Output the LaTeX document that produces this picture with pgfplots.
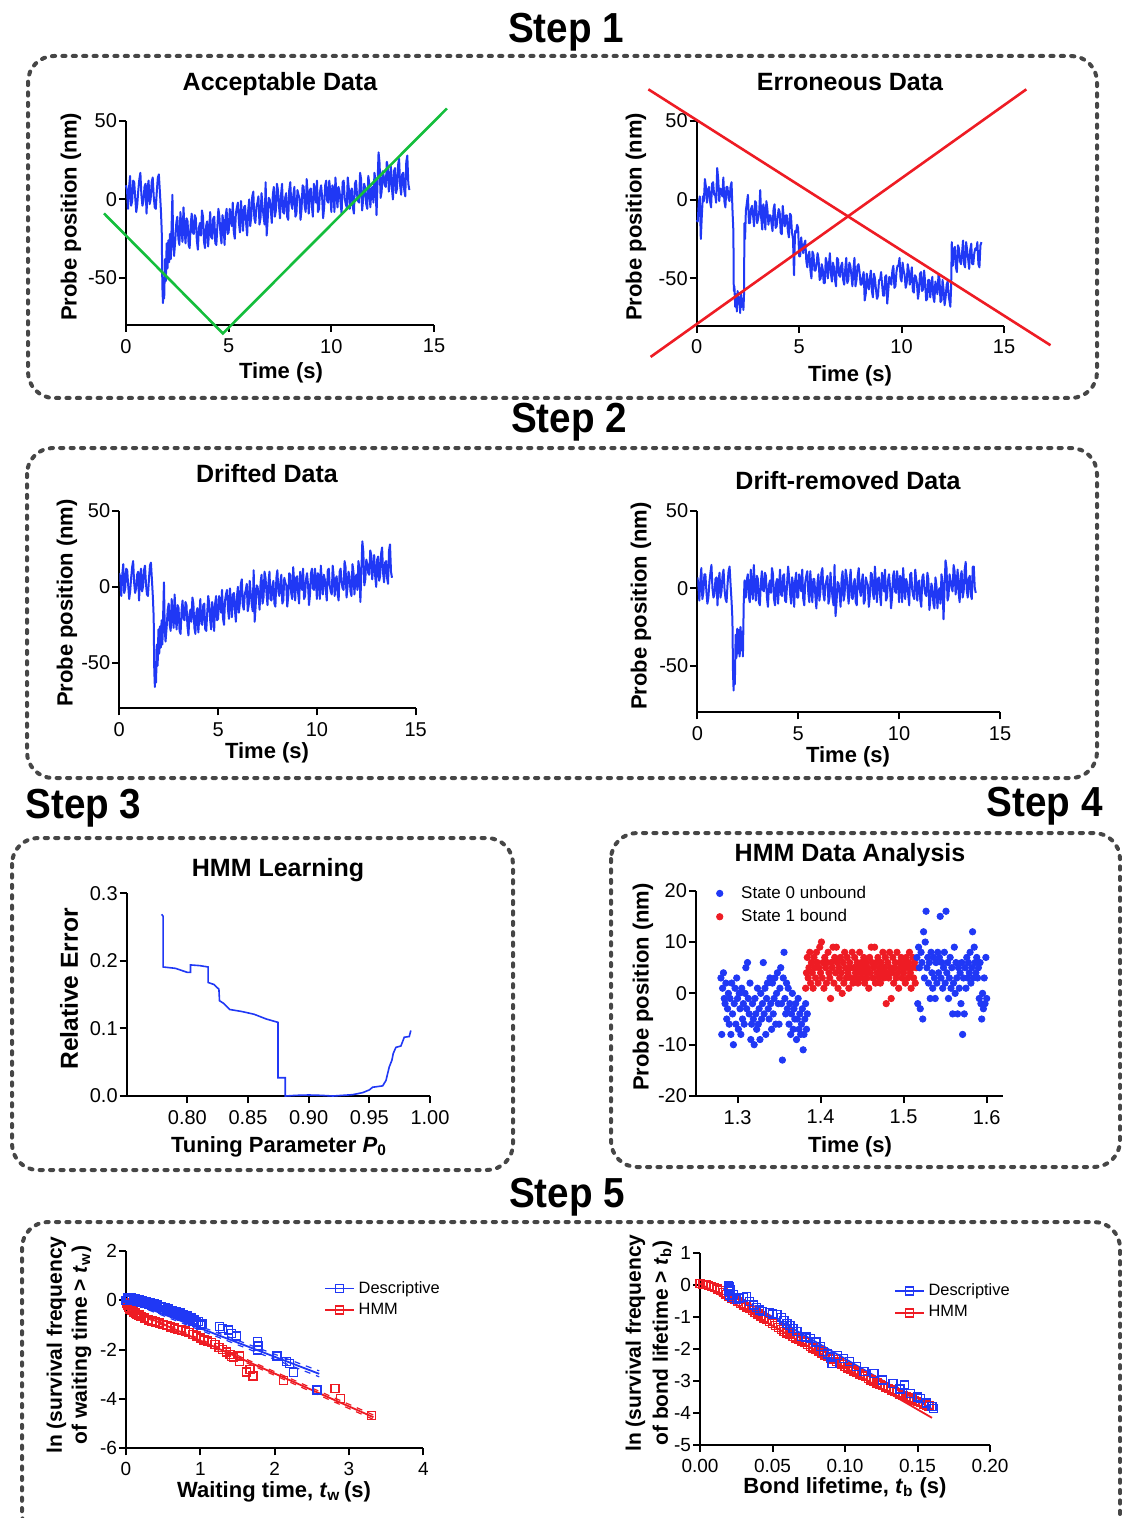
\documentclass[border=0pt]{standalone}
\usepackage{fontspec}
\setmainfont{Liberation Sans}
\usepackage{graphicx}
\usepackage{pgfplots}
\usepackage{pgfplotstable}
\pgfplotsset{compat=1.18}

\definecolor{tblue}{RGB}{32,56,245}
\definecolor{tgreen}{RGB}{20,190,60}
\definecolor{tred}{RGB}{238,28,36}
\definecolor{boxgray}{RGB}{70,70,70}

\pgfplotsset{
  prism/.style={
    scale only axis,
    anchor=south west,
    axis lines=left,
    axis line style={-, line width=1pt},
    every tick/.style={black, line width=1pt},
    tick align=outside,
    major tick length=3.5pt,
    enlargelimits=false,
    tick label style={font=\fontsize{10}{12}\selectfont},
    yticklabel style={xshift=2.5pt},
    /pgf/number format/assume math mode=true,
  },
  sqlegend/.style={
    legend cell align=left,
    legend image code/.code={\draw[mark repeat=2,mark phase=2,##1] plot coordinates {(0cm,0cm) (0.25cm,0cm) (0.5cm,0cm)};},
  },
  trace/.style={tblue, line width=1.0pt, line join=round},
}

% Acceptable / drifted trace (raw) and drift-removed trace (flat)
\pgfplotstableread{
t raw flat
0.0 9 7
0.05 6 3
0.1 -6 -8
0.15 8 5
0.2 15 13
0.25 -4 -7
0.3 -1 -3
0.35 12 9
0.4 11 9
0.45 1 -2
0.5 -8 -10
0.55 -3 -6
0.6 6 4
0.65 13 10
0.7 17 15
0.75 3 0
0.8 -4 -6
0.85 -1 -4
0.9 8 6
0.95 10 7
1.0 -9 -11
1.05 7 4
1.1 12 10
1.15 -3 -6
1.2 0 -2
1.25 11 8
1.3 14 12
1.35 2 -1
1.4 -5 -7
1.45 -6 -9
1.5 5 3
1.55 14 11
1.6 16 14
1.65 5 2
1.7 -7 -9
1.74 -20 -20
1.77 -55 -55
1.80 -66 -66
1.83 -50 -48
1.86 -63 -62
1.90 -38 -30
1.94 -52 -45
1.98 -28 -26
2.02 -44 -42
2.06 -26 -27
2.10 -40 -44
2.14 -22 -25
2.18 -38 -40
2.22 -18 -28
2.26 3 -44
2.30 -28 -10
2.34 -36 5
2.4 -26 -6
2.45 -15 5
2.5 -11 9
2.55 -25 -5
2.6 -29 -9
2.65 -8 12
2.7 -19 1
2.75 -27 -7
2.8 -5 15
2.85 -19 1
2.9 -28 -8
2.95 -12 8
3.0 -14 6
3.05 -29 -9
3.1 -31 -11
3.15 -16 4
3.2 -9 11
3.25 -21 -1
3.3 -22 -2
3.35 -10 10
3.4 -12 8
3.45 -26 -6
3.5 -32 -12
3.55 -18 2
3.6 -15 5
3.65 -23 -3
3.7 -7 13
3.75 -11 9
3.8 -27 -7
3.85 -31 -11
3.9 -17 3
3.95 -14 6
4.0 -30 -10
4.05 -19 1
4.1 -8 12
4.15 -24 -4
4.2 -25 -5
4.25 -12 8
4.3 -11 9
4.35 -28 -8
4.4 -29 -9
4.45 -17 3
4.5 -6 14
4.55 -11 7
4.6 -22 -4
4.65 -28 -10
4.7 -10 7
4.75 -15 2
4.8 -29 -12
4.85 -11 5
4.9 -6 10
4.95 -22 -6
5.0 -21 -6
5.05 -6 9
5.1 -11 4
5.15 -17 -2
5.2 -2 12
5.25 -21 -7
5.3 -25 -11
5.35 -9 4
5.4 -5 8
5.45 -2 11
5.5 -15 -3
5.55 -21 -9
5.6 -1 11
5.65 -11 0
5.7 -20 -9
5.75 -5 6
5.8 -4 6
5.85 -15 -5
5.9 -23 -13
5.95 -7 3
6.0 0 9
6.05 -17 -8
6.1 -11 -2
6.15 2 10
6.2 5 13
6.25 -12 -4
6.3 -15 -8
6.35 -5 2
6.4 -2 5
6.45 2 8
6.5 -16 -10
6.55 -12 -6
6.6 4 10
6.65 -4 1
6.7 -11 -6
6.75 -16 -11
6.8 11 15
6.85 -23 -18
6.9 -13 -9
6.95 1 4
7.0 0 3
7.05 -6 -3
7.1 -15 -12
7.15 3 6
7.2 8 11
7.25 -11 -8
7.3 -7 -4
7.35 10 12
7.4 6 8
7.45 -4 -2
7.5 -12 -10
7.55 3 5
7.6 10 12
7.65 -8 -6
7.7 -9 -7
7.75 1 3
7.8 4 6
7.85 -11 -9
7.9 -13 -11
7.95 6 8
8.0 11 13
8.05 -3 -1
8.1 -6 -5
8.15 3 4
8.2 8 9
8.25 -11 -10
8.3 -9 -8
8.35 6 7
8.4 3 4
8.45 1 2
8.5 -13 -12
8.55 -6 -5
8.6 9 10
8.65 8 9
8.7 -4 -3
8.75 -8 -7
8.8 13 14
8.85 3 3
8.9 -9 -9
8.95 6 6
9.0 7 7
9.05 -4 -4
9.1 -11 -11
9.15 10 10
9.2 5 5
9.25 -2 -2
9.3 12 12
9.35 -8 -8
9.4 -6 -6
9.45 5 5
9.5 9 9
9.55 2 1
9.6 -12 -13
9.65 -5 -6
9.7 9 8
9.75 12 11
9.8 -1 -2
9.85 -2 -3
9.9 12 11
9.95 5 4
10.0 -8 -9
10.05 9 8
10.1 7 6
10.15 -8 -9
10.2 14 13
10.25 3 2
10.3 -5 -7
10.35 8 6
10.4 5 3
10.45 -2 -4
10.5 -9 -11
10.55 11 9
10.6 12 10
10.65 1 -1
10.7 -3 -5
10.75 -5 -7
10.8 14 12
10.85 7 5
10.9 -6 -8
10.95 5 3
11.0 7 5
11.05 -5 -8
11.1 -9 -12
11.15 10 7
11.2 12 9
11.25 3 0
11.3 -1 -4
11.35 -2 -5
11.4 17 10
11.45 13 6
11.5 -7 -14
11.55 0 -7
11.6 10 3
11.65 7 0
11.7 -3 -10
11.75 -6 -13
11.8 15 7
11.85 10 2
11.9 -5 -13
11.95 6 -2
12.0 8 0
12.05 -2 -10
12.1 17 9
12.15 12 4
12.2 -10 -20
12.3 30 18
12.35 23 13
12.4 1 -8
12.45 5 -5
12.5 18 9
12.55 15 5
12.6 9 0
12.65 8 -2
12.7 24 15
12.75 21 11
12.8 5 -4
12.85 13 3
12.9 21 12
12.95 7 -3
13.0 0 -9
13.05 18 8
13.1 20 11
13.15 4 -6
13.2 7 -2
13.25 22 12
13.3 26 17
13.35 9 -1
13.4 3 -6
13.45 16 6
13.5 17 8
13.55 6 -4
13.6 2 -7
13.65 24 14
13.7 28 14
13.75 10 0
13.8 6 -3
}\traceA

% Erroneous trace
\pgfplotstableread{
t y
0.0 -13
0.05 -14
0.1 -2
0.15 2
0.2 -25
0.25 -10
0.3 2
0.35 -1
0.4 13
0.45 8
0.5 -2
0.55 6
0.6 8
0.65 -1
0.7 -5
0.75 10
0.8 11
0.85 3
0.9 3
0.95 -2
1.0 20
1.05 13
1.1 -1
1.15 7
1.2 6
1.25 2
1.3 14
1.35 -1
1.4 -5
1.45 8
1.5 8
1.55 1
1.6 -1
1.65 8
1.7 11
1.75 -8
1.79 -20
1.81 -58
1.84 -55
1.88 -68
1.92 -60
1.96 -71
2.00 -58
2.04 -66
2.08 -62
2.12 -72
2.16 -59
2.20 -68
2.24 -63
2.28 -70
2.31 -60
2.33 -15
2.36 -25
2.4 -7
2.45 -2
2.5 3
2.55 -15
2.6 -15
2.65 -6
2.7 -4
2.75 -10
2.8 -17
2.85 -1
2.9 -2
2.95 -15
3.0 -12
3.05 -8
3.1 6
3.15 -12
3.2 -19
3.25 -3
3.3 -7
3.35 -19
3.4 -1
3.45 -6
3.5 -16
3.55 -10
3.6 -10
3.65 -15
3.7 -20
3.75 -6
3.8 -3
3.85 -18
3.9 -17
3.95 -11
4.0 -6
4.05 -8
4.1 -21
4.15 -22
4.2 -4
4.25 -12
4.3 -17
4.35 -10
4.4 -10
4.45 -20
4.5 -24
4.55 -9
4.6 -10
4.65 -21
4.7 -25
4.75 -48
4.8 -20
4.85 -21
4.9 -16
4.95 -18
5.0 -36
5.05 -36
5.1 -24
5.15 -31
5.2 -34
5.25 -28
5.3 -26
5.35 -39
5.4 -43
5.45 -35
5.5 -33
5.55 -45
5.6 -50
5.65 -33
5.7 -35
5.75 -45
5.8 -45
5.85 -41
5.9 -34
5.95 -38
6.0 -51
6.05 -50
6.1 -41
6.15 -44
6.2 -53
6.25 -53
6.3 -37
6.35 -40
6.4 -50
6.45 -42
6.5 -34
6.55 -47
6.6 -52
6.65 -40
6.7 -43
6.75 -51
6.8 -55
6.85 -37
6.9 -38
6.95 -48
7.0 -49
7.05 -42
7.1 -40
7.15 -51
7.2 -54
7.25 -44
7.3 -37
7.35 -53
7.4 -51
7.45 -40
7.5 -42
7.55 -48
7.6 -55
7.65 -44
7.7 -37
7.75 -55
7.8 -51
7.85 -42
7.9 -41
7.95 -46
8.0 -54
8.05 -54
8.1 -49
8.15 -46
8.2 -64
8.25 -60
8.3 -47
8.35 -53
8.4 -57
8.45 -50
8.5 -45
8.55 -58
8.6 -62
8.65 -47
8.7 -50
8.75 -57
8.8 -63
8.85 -61
8.9 -51
8.95 -51
9.0 -46
9.05 -54
9.1 -61
9.15 -61
9.2 -49
9.25 -48
9.3 -66
9.35 -58
9.4 -49
9.45 -51
9.5 -54
9.55 -45
9.6 -42
9.65 -56
9.7 -55
9.75 -46
9.8 -42
9.85 -42
9.9 -37
9.95 -50
10.0 -52
10.05 -40
10.1 -45
10.15 -48
10.2 -56
10.25 -53
10.3 -41
10.35 -45
10.4 -54
10.45 -49
10.5 -43
10.55 -58
10.6 -59
10.65 -48
10.7 -49
10.75 -53
10.8 -63
10.85 -58
10.9 -47
10.95 -46
11.0 -58
11.05 -57
11.1 -45
11.15 -52
11.2 -64
11.25 -63
11.3 -51
11.35 -51
11.4 -62
11.45 -55
11.5 -49
11.55 -62
11.6 -65
11.65 -52
11.7 -55
11.75 -60
11.8 -48
11.85 -50
11.9 -65
11.95 -64
12.0 -51
12.05 -57
12.1 -67
12.15 -62
12.2 -54
12.25 -52
12.3 -61
12.38 -68
12.42 -55
12.45 -27
12.5 -42
12.55 -32
12.6 -30
12.65 -43
12.7 -46
12.75 -29
12.8 -31
12.85 -39
12.9 -41
12.95 -34
13.0 -26
13.05 -41
13.1 -43
13.15 -27
13.2 -32
13.25 -38
13.3 -44
13.35 -32
13.4 -28
13.45 -41
13.5 -41
13.55 -34
13.6 -31
13.65 -32
13.7 -27
13.75 -41
13.8 -43
13.85 -29
13.9 -27
}\traceB

\begin{document}
\begin{tikzpicture}
\begin{scope}[x=0.5pt,y=-0.5pt]
\path[use as bounding box] (0,0) rectangle (1122,1518);
% dashed boxes
\begin{scope}[boxgray, line width=2pt, dash pattern=on 1.6pt off 3.6pt, line cap=round, rounded corners=13pt]
\draw (28,56) rectangle (1097,398);
\draw (27,448) rectangle (1097,778);
\draw (12,838) rectangle (513,1170);
\draw (611,833) rectangle (1120,1167);
\draw (22,1222) rectangle (1120,1540);
\end{scope}
% step titles
\begin{scope}[font=\fontsize{21}{24}\selectfont\bfseries, inner sep=0pt]
\node[anchor=base] at (566,43) {\scalebox{0.92}[1]{Step 1}};
\node[anchor=base] at (569,432) {\scalebox{0.92}[1]{Step 2}};
\node[anchor=base west] at (25,818) {\scalebox{0.92}[1]{Step 3}};
\node[anchor=base east] at (1103,816) {\scalebox{0.92}[1]{Step 4}};
\node[anchor=base] at (567,1207) {\scalebox{0.92}[1]{Step 5}};
\end{scope}
% panel titles
\begin{scope}[font=\fontsize{12.5}{14}\selectfont\bfseries, inner sep=0pt]
\node[anchor=base] at (280,91) {Acceptable Data};
\node[anchor=base] at (850,91) {Erroneous Data};
\node[anchor=base] at (267,482) {Drifted Data};
\node[anchor=base] at (848,489) {Drift-removed Data};
\node[anchor=base] at (278,876) {HMM Learning};
\node[anchor=base] at (850,861) {HMM Data Analysis};
\end{scope}
% axis labels
\begin{scope}[font=\fontsize{11}{13}\selectfont\bfseries, inner sep=0pt]
\node[anchor=base] at (281,379) {Time (s)};
\node[anchor=base] at (850,382) {Time (s)};
\node[anchor=base] at (267,758) {Time (s)};
\node[anchor=base] at (848,762) {Time (s)};
\node[anchor=base] at (279,1152) {Tuning Parameter \textit{P}\textsubscript{0}};
\node[anchor=base] at (850,1152) {Time (s)};
\node[anchor=base] at (274,1497) {Waiting time, \textit{t}\textsubscript{w}\,(s)};
\node[anchor=base] at (845,1493) {Bond lifetime, \textit{t}\textsubscript{b} (s)};
\node[rotate=90] at (71,217) {Probe position (nm)};
\node[rotate=90] at (636,217) {Probe position (nm)};
\node[rotate=90] at (67,603) {Probe position (nm)};
\node[rotate=90] at (641,606) {Probe position (nm)};
\node[rotate=90, font=\fontsize{12.3}{14}\selectfont\bfseries] at (69,989) {Relative Error};
\node[rotate=90] at (643,987) {Probe position (nm)};
\node[rotate=90, align=center, font=\fontsize{10.5}{12.5}\selectfont\bfseries] at (69,1345) {ln (survival frequency\\of waiting time > \textit{t}\textsubscript{w})};
\node[rotate=90, align=center, font=\fontsize{10.5}{13.5}\selectfont\bfseries] at (649,1343) {ln (survival frequency\\of bond lifetime > \textit{t}\textsubscript{b})};
\end{scope}
\end{scope}

% ---------- Step 1: Acceptable ----------
\begin{axis}[prism, at={(63pt,-162.5pt)}, width=154pt, height=102pt,
  xmin=0, xmax=15, ymin=-80, ymax=50, xtick={0,5,10,15}, ytick={-50,0,50},
  yticklabels={-50,0,50}, clip=false]
\addplot[trace] table[x=t,y=raw]{\traceA};
\addplot[tgreen, line width=1.3pt] coordinates {(-1.07,-8.9) (4.72,-85.4) (15.63,58)};
\end{axis}

% ---------- Step 1: Erroneous ----------
\begin{axis}[prism, at={(348.35pt,-162.85pt)}, width=153.65pt, height=102.5pt,
  xmin=0, xmax=15, ymin=-80, ymax=50, xtick={0,5,10,15}, ytick={-50,0,50},
  yticklabels={-50,0,50}, clip=false]
\addplot[trace] table[x=t,y=y]{\traceB};
\addplot[tred, line width=1.3pt] coordinates {(-2.36,69.9) (17.27,-92.4)};
\addplot[tred, line width=1.3pt] coordinates {(-2.25,-99.8) (16.09,69.9)};
\end{axis}

% ---------- Step 2: Drifted ----------
\begin{axis}[prism, at={(59.65pt,-354.15pt)}, width=148.2pt, height=98.65pt,
  xmin=0, xmax=15, ymin=-80, ymax=50, xtick={0,5,10,15}, ytick={-50,0,50},
  yticklabels={-50,0,50}]
\addplot[trace] table[x=t,y=raw]{\traceA};
\end{axis}

% ---------- Step 2: Drift-removed ----------
\begin{axis}[prism, at={(348.65pt,-356.15pt)}, width=151.35pt, height=100.8pt,
  xmin=0, xmax=15, ymin=-80, ymax=50, xtick={0,5,10,15}, ytick={-50,0,50},
  yticklabels={-50,0,50}]
\addplot[trace] table[x=t,y=flat]{\traceA};
\end{axis}

% ---------- Step 3: HMM Learning ----------
\begin{axis}[prism, at={(63.35pt,-548pt)}, width=151.65pt, height=101.35pt,
  xmin=0.75, xmax=1.0, ymin=0, ymax=0.3,
  xtick={0.80,0.85,0.90,0.95,1.00}, xticklabels={0.80,0.85,0.90,0.95,1.00},
  ytick={0,0.1,0.2,0.3}, yticklabels={0.0,0.1,0.2,0.3}, clip=false]
\addplot[tblue, line width=0.8pt] coordinates {
(0.7788,0.269) (0.7800,0.266) (0.7800,0.191) (0.7900,0.189) (0.7950,0.186)
(0.8000,0.183) (0.8026,0.183) (0.8026,0.194) (0.8100,0.193) (0.8171,0.191)
(0.8171,0.168) (0.8220,0.165) (0.8260,0.158) (0.8265,0.141) (0.8300,0.137)
(0.8350,0.128) (0.8450,0.125) (0.8550,0.121) (0.8650,0.114) (0.8747,0.109)
(0.8747,0.027) (0.8807,0.027) (0.8807,0.000) (0.8900,0.001) (0.9000,0.0015)
(0.9100,0.001) (0.9200,0.000) (0.9363,0.002) (0.9445,0.005) (0.9500,0.009)
(0.9527,0.013) (0.9610,0.015) (0.9637,0.023) (0.9664,0.043) (0.9686,0.053)
(0.9697,0.063) (0.9719,0.072) (0.9760,0.074) (0.9788,0.087) (0.9829,0.088)
(0.9842,0.097)};
\end{axis}

% ---------- Step 4: HMM Data Analysis ----------
\begin{axis}[prism, at={(348pt,-548pt)}, width=153.65pt, height=102.65pt,
  xmin=1.25, xmax=1.62, ymin=-20, ymax=20,
  xtick={1.3,1.4,1.5,1.6}, xticklabels={1.3,1.4,1.5,1.6},
  ytick={-20,-10,0,10,20}, yticklabels={-20,-10,0,10,20},
  legend style={at={(axis description cs:0.046,1.065)}, anchor=north west, draw=none, fill=none,
    font=\fontsize{8.5}{10}\selectfont, row sep=0pt},
  legend cell align=left,
  legend image code/.code={\path (0cm,0cm) (0.3cm,0cm); \draw[#1] plot coordinates {(0cm,0cm)};}]
\addplot[only marks, mark=*, mark size=1.6pt, color=tblue] coordinates {
(1.280,3) (1.281,-8) (1.282,1) (1.283,4) (1.284,-1) (1.285,-2) (1.286,2) (1.287,-5) (1.288,-3) (1.289,0)
(1.290,-6) (1.291,-1) (1.292,-8) (1.293,2) (1.294,-4) (1.295,-10) (1.296,-2) (1.297,1) (1.298,-6) (1.299,3)
(1.300,-1) (1.301,-7) (1.302,0) (1.303,-3) (1.304,-8) (1.305,1) (1.306,-5) (1.307,-2) (1.308,-6) (1.309,0)
(1.310,5) (1.311,-3) (1.312,6) (1.313,-1) (1.314,-4) (1.315,2) (1.316,-9) (1.317,-6) (1.318,-2) (1.319,-5)
(1.320,-10) (1.321,-1) (1.322,-4) (1.323,-7) (1.324,1) (1.325,-6) (1.326,-3) (1.327,-9) (1.328,0) (1.329,-5)
(1.330,-2) (1.331,6) (1.332,-4) (1.333,1) (1.334,-8) (1.335,-1) (1.336,2) (1.337,-3) (1.338,-5) (1.339,3)
(1.340,-2) (1.341,-7) (1.342,2) (1.343,-4) (1.344,-1) (1.345,3) (1.346,-6) (1.347,0) (1.348,4) (1.349,-2)
(1.350,-6) (1.351,1) (1.352,5) (1.353,-2) (1.354,-13) (1.355,3) (1.356,8) (1.357,-1) (1.358,-4) (1.359,2)
(1.360,-3) (1.361,1) (1.362,-6) (1.363,-2) (1.364,-8) (1.365,-4) (1.366,0) (1.367,-7) (1.368,-3) (1.369,-5)
(1.370,-2) (1.371,-9) (1.372,-5) (1.373,-1) (1.374,-7) (1.375,-4) (1.376,-8) (1.377,-6) (1.378,-3) (1.379,-11)
(1.380,-8) (1.381,-5) (1.382,-2) (1.383,-7) (1.384,-4)};
\addplot[only marks, mark=*, mark size=1.6pt, color=tred] coordinates {
(1.382,1) (1.383,4) (1.384,7) (1.385,3) (1.386,5) (1.387,8) (1.388,2) (1.389,6) (1.390,4) (1.391,1)
(1.392,7) (1.393,5) (1.394,3) (1.395,8) (1.396,6) (1.397,2) (1.398,5) (1.399,9) (1.400,4) (1.401,10)
(1.402,3) (1.403,6) (1.404,1) (1.405,7) (1.406,5) (1.407,2) (1.408,6) (1.409,8) (1.410,4) (1.411,3)
(1.412,-1) (1.413,6) (1.414,5) (1.415,9) (1.416,2) (1.417,7) (1.418,4) (1.419,9) (1.420,6) (1.421,1)
(1.422,5) (1.423,3) (1.424,7) (1.425,4) (1.426,0) (1.427,6) (1.428,2) (1.429,8) (1.430,5) (1.431,3)
(1.432,7) (1.433,4) (1.434,1) (1.435,6) (1.436,5) (1.437,3) (1.438,8) (1.439,2) (1.440,5) (1.441,7)
(1.442,4) (1.443,3) (1.444,6) (1.445,2) (1.446,5) (1.447,8) (1.448,4) (1.449,6) (1.450,3) (1.451,5)
(1.452,7) (1.453,2) (1.454,4) (1.455,6) (1.456,3) (1.457,5) (1.458,1) (1.459,7) (1.460,4) (1.461,9)
(1.462,6) (1.463,3) (1.464,5) (1.465,9) (1.466,2) (1.467,6) (1.468,4) (1.469,7) (1.470,3) (1.471,5)
(1.472,2) (1.473,6) (1.474,4) (1.475,8) (1.476,3) (1.477,5) (1.478,7) (1.479,-2) (1.480,4) (1.481,6)
(1.482,3) (1.483,8) (1.484,5) (1.485,-1) (1.486,4) (1.487,7) (1.488,2) (1.489,5) (1.490,6) (1.491,3)
(1.492,8) (1.493,4) (1.494,1) (1.495,6) (1.496,5) (1.497,7) (1.498,3) (1.499,5) (1.500,4) (1.501,6)
(1.502,2) (1.503,7) (1.504,5) (1.505,3) (1.506,6) (1.507,8) (1.508,4) (1.509,1) (1.510,5) (1.511,7)
(1.512,3) (1.513,6) (1.514,2) (1.515,5)};
\addplot[only marks, mark=*, mark size=1.6pt, color=tblue, forget plot] coordinates {
(1.516,7) (1.517,-2) (1.518,9) (1.519,5) (1.520,-3) (1.521,8) (1.522,6) (1.523,-5) (1.524,12) (1.525,3)
(1.526,10) (1.527,16) (1.528,5) (1.529,7) (1.530,2) (1.531,6) (1.532,-1) (1.533,8) (1.534,4) (1.535,1)
(1.536,7) (1.537,3) (1.538,-1) (1.539,6) (1.540,2) (1.541,8) (1.542,4) (1.543,7) (1.544,15) (1.545,3)
(1.546,6) (1.547,1) (1.548,5) (1.549,8) (1.550,2) (1.551,16) (1.552,4) (1.553,6) (1.554,-1) (1.555,3)
(1.556,7) (1.557,1) (1.558,5) (1.559,-4) (1.560,2) (1.561,9) (1.562,0) (1.563,6) (1.564,3) (1.565,-4)
(1.566,5) (1.567,1) (1.568,4) (1.569,-2) (1.570,6) (1.571,-8) (1.572,3) (1.573,-4) (1.574,5) (1.575,1)
(1.576,7) (1.577,3) (1.578,6) (1.579,4) (1.580,8) (1.581,2) (1.582,5) (1.583,12) (1.584,3) (1.585,9)
(1.586,6) (1.587,4) (1.588,7) (1.589,3) (1.590,5) (1.591,-1) (1.592,6) (1.593,-2) (1.594,-5) (1.595,0)
(1.596,-3) (1.597,3) (1.598,-2) (1.599,7) (1.600,-1)};
\legend{State 0 unbound, State 1 bound}
\end{axis}

% ---------- Step 5: waiting time ----------
\begin{axis}[prism, sqlegend, at={(63pt,-724.15pt)}, width=148.65pt, height=98.65pt,
  xmin=0, xmax=4, ymin=-6, ymax=2, xtick={0,1,2,3,4}, ytick={-6,-4,-2,0,2},
  yticklabels={-6,-4,-2,0,2}, tick label style={font=\fontsize{9.5}{11}\selectfont},
  legend style={at={(axis description cs:0.646,0.89)}, anchor=north west, draw=none, fill=none,
    font=\fontsize{8.2}{10}\selectfont, row sep=-0.5pt}]
\addlegendimage{color=tblue, line width=0.9pt, mark=square, mark size=2pt, mark options={solid, draw=tblue}}
\addlegendentry{Descriptive}
\addlegendimage{color=tred, line width=0.9pt, mark=square, mark size=2pt, mark options={solid, draw=tred}}
\addlegendentry{HMM}
\addplot[forget plot, only marks, mark=square, mark size=2pt, tred, mark options={line width=0.7pt}] coordinates {
(0.000,0.00) (0.010,-0.10) (0.020,-0.20) (0.030,-0.28) (0.050,-0.35) (0.075,-0.42) (0.100,-0.48)
(0.125,-0.52) (0.150,-0.58) (0.175,-0.60) (0.200,-0.66) (0.250,-0.72) (0.300,-0.80) (0.350,-0.83)
(0.400,-0.88) (0.450,-0.92) (0.500,-0.98) (0.550,-1.02) (0.600,-1.08) (0.650,-1.12) (0.700,-1.18)
(0.750,-1.20) (0.800,-1.25) (0.850,-1.30) (0.900,-1.38) (0.950,-1.45) (1.000,-1.52) (1.050,-1.60)
(1.100,-1.65) (1.150,-1.72) (1.200,-1.80) (1.250,-1.90) (1.300,-2.00) (1.350,-2.10) (1.400,-2.20)
(1.420,-2.28) (1.450,-2.32) (1.53,-2.26) (1.53,-2.49) (1.62,-2.90) (1.67,-2.80) (1.71,-3.07)
(2.12,-3.26) (2.81,-3.57) (2.89,-3.97) (3.30,-4.68)};
\addplot[forget plot, tred, line width=0.9pt] coordinates {(0,-0.30) (3.33,-4.74)};
\addplot[forget plot, tred, dashed, line width=0.6pt] coordinates {(0,-0.25) (3.33,-4.65)};
\addplot[forget plot, tred, dashed, line width=0.6pt] coordinates {(0,-0.35) (3.33,-4.83)};
\addplot[forget plot, only marks, mark=square, mark size=2pt, tblue, mark options={line width=0.7pt}] coordinates {
(0.000,0.00) (0.025,0.10) (0.050,0.06) (0.075,0.12) (0.100,0.02) (0.125,0.05) (0.150,-0.04)
(0.175,0.01) (0.200,-0.08) (0.225,-0.03) (0.250,-0.12) (0.275,-0.06) (0.300,-0.16) (0.325,-0.10)
(0.350,-0.20) (0.375,-0.15) (0.400,-0.24) (0.425,-0.19) (0.450,-0.30) (0.475,-0.25) (0.500,-0.36)
(0.525,-0.30) (0.550,-0.42) (0.575,-0.35) (0.600,-0.45) (0.625,-0.40) (0.650,-0.52) (0.675,-0.46)
(0.700,-0.58) (0.725,-0.52) (0.750,-0.63) (0.775,-0.57) (0.800,-0.70) (0.825,-0.64) (0.850,-0.76)
(0.875,-0.70) (0.900,-0.84) (0.925,-0.78) (0.950,-0.90) (0.975,-0.86) (1.000,-1.00) (1.02,-0.95)
(1.26,-1.07) (1.30,-1.15) (1.38,-1.20) (1.42,-1.35) (1.49,-1.45) (1.77,-1.68) (1.78,-1.85)
(1.77,-2.01) (2.03,-2.26) (2.16,-2.49) (2.20,-2.55) (2.25,-2.93) (2.57,-3.64)};
\addplot[forget plot, tblue, line width=0.9pt] coordinates {(0,0.02) (2.6,-2.98)};
\addplot[forget plot, tblue, dashed, line width=0.6pt] coordinates {(0,0.07) (2.6,-2.86)};
\addplot[forget plot, tblue, dashed, line width=0.6pt] coordinates {(0,-0.03) (2.6,-3.10)};
\end{axis}

% ---------- Step 5: bond lifetime ----------
\begin{axis}[prism, sqlegend, at={(350pt,-722.5pt)}, width=145pt, height=95.85pt,
  xmin=0, xmax=0.2, ymin=-5, ymax=1, xtick={0,0.05,0.1,0.15,0.2},
  xticklabels={0.00,0.05,0.10,0.15,0.20}, ytick={-5,-4,-3,-2,-1,0,1},
  yticklabels={-5,-4,-3,-2,-1,0,1}, tick label style={font=\fontsize{9.5}{11}\selectfont},
  legend style={at={(axis description cs:0.648,0.886)}, anchor=north west, draw=none, fill=none,
    font=\fontsize{8.2}{10}\selectfont, row sep=-0.5pt}]
\addlegendimage{color=tblue, line width=0.9pt, mark=square, mark size=2pt, mark options={solid, draw=tblue}}
\addlegendentry{Descriptive}
\addlegendimage{color=tred, line width=0.9pt, mark=square, mark size=2pt, mark options={solid, draw=tred}}
\addlegendentry{HMM}
\addplot[forget plot, only marks, mark=square, mark size=2pt, tred, mark options={line width=0.7pt}] coordinates {
(0.000,0.05) (0.002,0.03) (0.004,0.02) (0.006,0.00) (0.008,-0.03) (0.010,-0.07) (0.012,-0.12)
(0.014,-0.17) (0.016,-0.23) (0.018,-0.29) (0.020,-0.34) (0.022,-0.40) (0.024,-0.45) (0.026,-0.51)
(0.028,-0.57) (0.030,-0.62) (0.032,-0.68) (0.034,-0.73) (0.036,-0.79) (0.038,-0.85) (0.040,-0.90)
(0.042,-0.96) (0.044,-1.02) (0.046,-1.08) (0.048,-1.14) (0.050,-1.20) (0.052,-1.26) (0.054,-1.32)
(0.056,-1.38) (0.058,-1.44) (0.060,-1.49) (0.062,-1.54) (0.064,-1.60) (0.066,-1.65) (0.068,-1.70)
(0.070,-1.75) (0.072,-1.80) (0.074,-1.86) (0.076,-1.91) (0.078,-1.96) (0.080,-2.01) (0.082,-2.06)
(0.084,-2.12) (0.086,-2.18) (0.088,-2.23) (0.090,-2.28) (0.092,-2.33) (0.094,-2.38) (0.096,-2.43)
(0.098,-2.48) (0.100,-2.55) (0.102,-2.59) (0.104,-2.63) (0.106,-2.68) (0.108,-2.72) (0.110,-2.78)
(0.112,-2.82) (0.114,-2.86) (0.116,-2.91) (0.118,-2.96) (0.120,-3.02) (0.122,-3.06) (0.124,-3.10)
(0.126,-3.14) (0.128,-3.19) (0.130,-3.24) (0.132,-3.28) (0.134,-3.32) (0.136,-3.36) (0.138,-3.40)
(0.140,-3.45) (0.142,-3.49) (0.144,-3.52) (0.146,-3.56) (0.148,-3.60) (0.150,-3.64) (0.152,-3.67)
(0.154,-3.71) (0.156,-3.75) (0.158,-3.78)};
\addplot[forget plot, tred, line width=0.9pt] coordinates {(0,0.05) (0.16,-4.15)};
\addplot[forget plot, only marks, mark=square, mark size=2pt, tblue, mark options={line width=0.7pt}] coordinates {
(0.0195,0.00) (0.0195,-0.10) (0.0197,-0.20) (0.0200,-0.05) (0.0205,-0.30) (0.0210,-0.15)
(0.0220,-0.38) (0.0230,-0.28) (0.0250,-0.45) (0.0270,-0.40) (0.0300,-0.38) (0.0320,-0.36)
(0.0340,-0.50) (0.0370,-0.62) (0.0390,-0.70) (0.0410,-0.77) (0.0430,-0.82) (0.0480,-0.86)
(0.0500,-0.90) (0.0530,-0.92) (0.0560,-1.00) (0.0580,-1.10) (0.0600,-1.19) (0.0620,-1.25)
(0.0640,-1.35) (0.0670,-1.45) (0.0700,-1.60) (0.0730,-1.62) (0.0760,-1.66) (0.0800,-1.77)
(0.0830,-1.92) (0.0850,-2.08) (0.0880,-2.15) (0.0900,-2.24) (0.0910,-2.44) (0.0950,-2.20)
(0.0990,-2.29) (0.1030,-2.38) (0.1080,-2.55) (0.1130,-2.70) (0.1200,-2.76) (0.1260,-2.97)
(0.1330,-3.07) (0.1380,-3.25) (0.1410,-3.12) (0.1450,-3.38) (0.1500,-3.50) (0.1520,-3.54)
(0.1560,-3.68) (0.1600,-3.80) (0.1610,-3.85)};
\addplot[forget plot, tblue, line width=0.9pt] coordinates {(0.016,-0.10) (0.161,-3.90)};
\end{axis}
\end{tikzpicture}
\end{document}
